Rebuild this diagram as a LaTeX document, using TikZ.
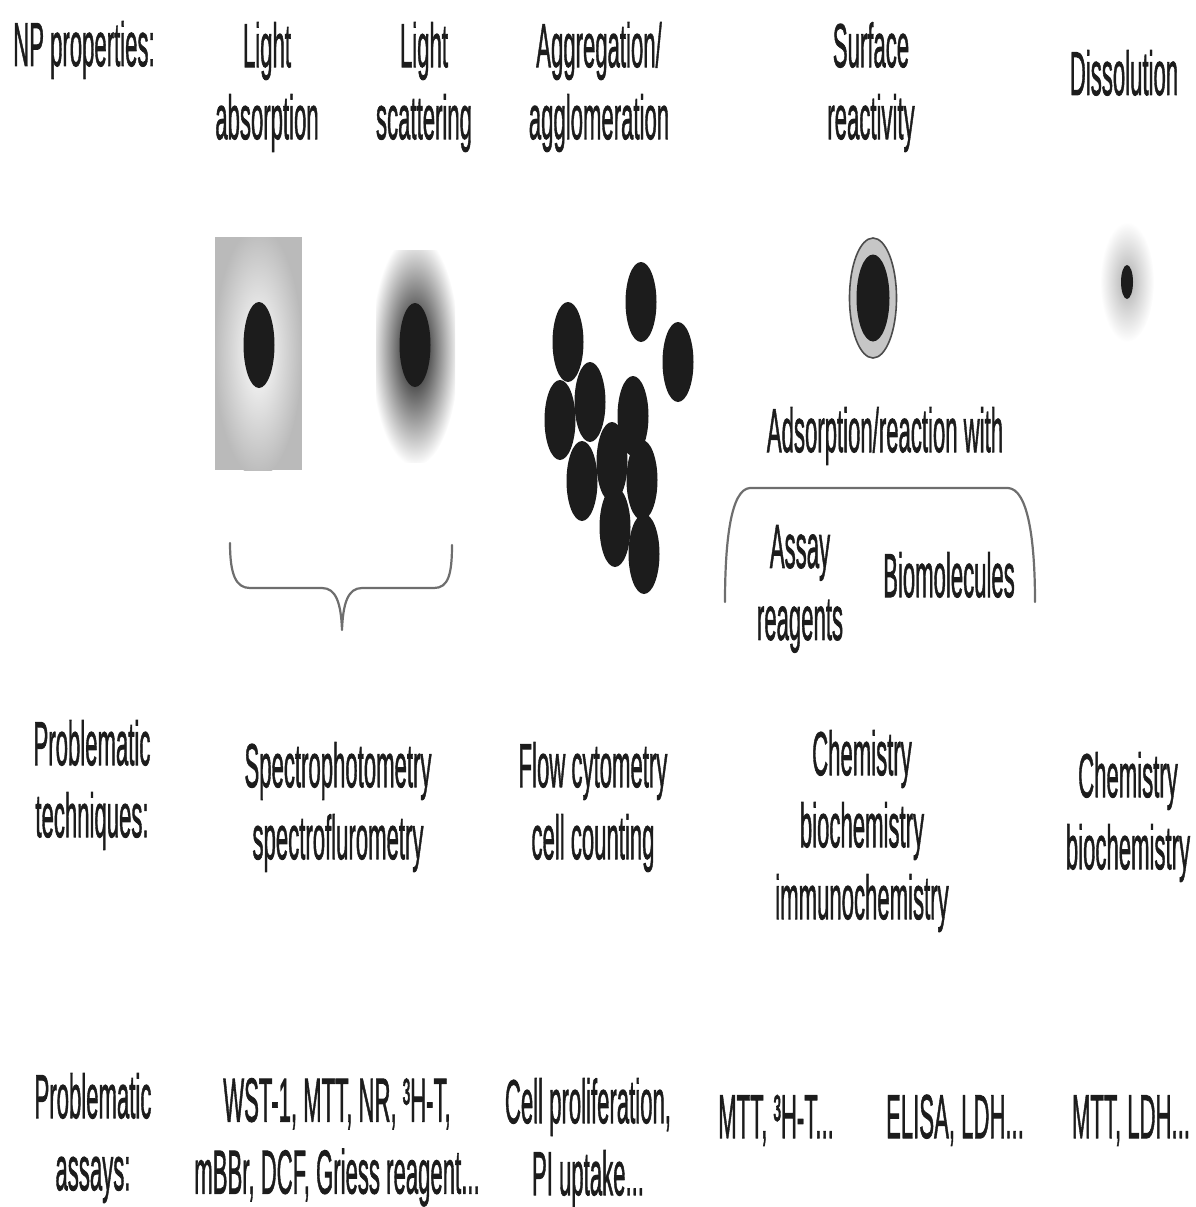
\documentclass[tikz,border=0pt]{standalone}
\usepackage{fontspec}
\setmainfont{Liberation Sans}
\newfontfamily\lblfont{Liberation Sans}[FakeBold=1.6]
\definecolor{ink}{HTML}{1C1C1C}
\definecolor{bracecol}{HTML}{6E6E6E}
\definecolor{boxgray}{HTML}{BABABA}
\pgfdeclareradialshading{scatterhalo}{\pgfpoint{0bp}{0bp}}{%
  color(0bp)=(black!80); color(7bp)=(black!70); color(25bp)=(white); color(50bp)=(white)}
\pgfdeclareradialshading{dissolvehalo}{\pgfpoint{0bp}{0bp}}{%
  color(0bp)=(black!32); color(12bp)=(black!16); color(25bp)=(white); color(50bp)=(white)}
\begin{document}
\begin{tikzpicture}[x=1pt,y=-1pt,
  lbl/.style={font=\lblfont\fontsize{62}{72}\selectfont, text=ink, inner sep=0pt,
              xscale=0.357, align=center},
  particle/.style={fill=ink},
  bracepath/.style={draw=bracecol, line width=2.2pt, line cap=round, line join=round}]

\useasboundingbox (0,0) rectangle (1195,1207);

% ---------- row 1: nanoparticle properties ----------
\node[lbl, anchor=base] (npprop) at (84,66) {NP properties:};
\node[lbl, anchor=north] (absorb) at (267,22) {Light\\absorption};
\node[lbl, anchor=north] (scatter) at (424,22) {Light\\scattering};
\node[lbl, anchor=north] (aggreg) at (599,22) {Aggregation/\\agglomeration};
\node[lbl, anchor=north] (surface) at (871,22) {Surface\\reactivity};
\node[lbl, anchor=base] (dissol) at (1124,95) {Dissolution};

% light absorption: grey field with a pale glow round the particle
\begin{scope}
  \clip (215,237) rectangle (302,470);
  \fill[boxgray] (215,237) rectangle (302,470);
  \shade[inner color=white, outer color=boxgray] (258,352) ellipse (44 and 125);
\end{scope}
\fill[particle] (259,345) ellipse (15.5 and 43);

% light scattering: dark halo fading outwards
\begin{scope}
  \clip (376,250) rectangle (455,462);
  \shade[shading=scatterhalo] (415,350) ellipse (44 and 116);
\end{scope}
\fill[particle] (415,345) ellipse (15.5 and 42);

% aggregation / agglomeration
\foreach \cx/\cy in {641/302, 678/362, 568/342, 560/420, 590/402, 633/416,
                     582/481, 612/462, 642/480, 615/527, 644/554}
  \fill[particle] (\cx,\cy) ellipse (15.5 and 40);

% surface reactivity: particle with an adsorbed layer
\fill[gray!45, draw=gray!60!black, line width=1.6pt] (873,298) ellipse (23.5 and 60);
\fill[particle] (873,298) ellipse (16.5 and 43.5);

% dissolution: small core in a faint halo
\shade[shading=dissolvehalo] (1127,282) ellipse (27 and 60);
\fill[particle] (1127,282) ellipse (6 and 17);

% adsorption bracket
\node[lbl, anchor=base] (adsorb) at (885,452) {Adsorption/reaction with};
\draw[bracepath] (725,602) .. controls (725,540) and (731,489) .. (750,488)
  -- (1008,488) .. controls (1028,489) and (1035,540) .. (1035,602);
\node[lbl, anchor=north] (reagents) at (800,525) {Assay\\reagents};
\node[lbl, anchor=base] (biomol) at (949,597) {Biomolecules};

% brace under the two optical properties
\draw[bracepath] (230,543) .. controls (230,575) and (236,588) .. (250,588)
  -- (322,588) .. controls (336,588) and (341,603) .. (342,630)
  .. controls (343,603) and (348,588) .. (362,588)
  -- (434,588) .. controls (448,588) and (452,575) .. (452,545);

% ---------- row 2: problematic techniques ----------
\node[lbl, anchor=north] (techhead) at (92,720) {Problematic\\techniques:};
\node[lbl, anchor=north] (spectro) at (338,742) {Spectrophotometry\\spectroflurometry};
\node[lbl, anchor=north] (flow) at (593,742) {Flow cytometry\\cell counting};
\node[lbl, anchor=north] (chemA) at (862,730) {Chemistry\\biochemistry\\immunochemistry};
\node[lbl, anchor=north] (chemB) at (1128,752) {Chemistry\\biochemistry};

% ---------- row 3: problematic assays ----------
\node[lbl, anchor=north] (assayhead) at (93,1073) {Problematic\\assays:};
\node[lbl, anchor=north] (wst) at (337,1078) {WST-1, MTT, NR, ³H-T,\\mBBr, DCF, Griess reagent...};
\node[lbl, anchor=north] (prolif) at (588,1078) {Cell proliferation,\\PI uptake...};
\node[lbl, anchor=base] (mttA) at (776,1138) {MTT, ³H-T...};
\node[lbl, anchor=base] (elisa) at (955,1138) {ELISA, LDH...};
\node[lbl, anchor=base] (mttB) at (1131,1138) {MTT, LDH...};

\end{tikzpicture}
\end{document}
